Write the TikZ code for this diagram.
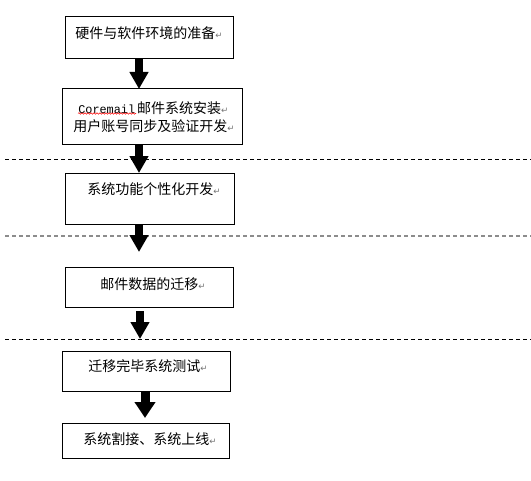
\documentclass[tikz,border=0pt]{standalone}
\usepackage{fontspec}
\setmainfont{Liberation Sans}
\newfontfamily\cjk{Noto Sans CJK SC}
\newfontfamily\monofnt{Liberation Mono}
\newfontfamily\symfnt{DejaVu Sans}
\usetikzlibrary{arrows.meta,decorations.pathmorphing}
\newcommand\pmark{{\symfnt\fontsize{6.5}{6.5}\selectfont\textcolor{black!55}{↵}}}
\begin{document}
\begin{tikzpicture}[x=0.75pt,y=-0.75pt,
  boxnode/.style={draw=black,line width=0.75pt,inner sep=0pt,outer sep=0pt},
  txt/.style={anchor=west,inner sep=0pt,font=\cjk\fontsize{10.5}{12}\selectfont},
  sep/.style={line width=0.75pt,dash pattern=on 3pt off 2.25pt},
  bigarrow/.style={line width=6pt,-{Triangle[width=13.5pt,length=12.75pt]}},
  bigarrowb/.style={line width=6.75pt,-{Triangle[width=15pt,length=12pt]}}]
\useasboundingbox (0,0) rectangle (531,481);

% separators
\coordinate (s1a) at (5,159);  \coordinate (s1b) at (531,159);
\coordinate (s2a) at (5,236);  \coordinate (s2b) at (531,236);
\coordinate (s3a) at (5,339);  \coordinate (s3b) at (531,339);
\draw[sep,black] (s1a) -- (s1b);
\draw[sep,black!45,line width=1.1pt] (s2a) -- (s2b);
\draw[sep,black] (s3a) -- (s3b);

% boxes
\node[boxnode,minimum width=126pt,minimum height=31.5pt] (b1) at (149,38) {};
\node[boxnode,minimum width=135pt,minimum height=42pt] (b2) at (152,117) {};
\node[boxnode,minimum width=126.75pt,minimum height=38.25pt] (b3) at (149.5,198.5) {};
\node[boxnode,minimum width=126pt,minimum height=30pt] (b4) at (149,287) {};
\node[boxnode,minimum width=126pt,minimum height=30pt] (b5) at (146,371) {};
\node[boxnode,minimum width=125.25pt,minimum height=26.25pt] (b6) at (145.5,440.5) {};

% texts
\node[txt] (t1) at (75,33) {硬件与软件环境的准备\pmark};
\node[txt] (t2a) at (78,108) {{\monofnt\fontsize{8.9}{10}\selectfont Coremail}\hspace{1.5pt}邮件系统安装\pmark};
\node[txt] (t2b) at (73,126) {用户账号同步及验证开发\pmark};
\node[txt] (t3) at (87,189) {系统功能个性化开发\pmark};
\node[txt] (t4) at (100,284) {邮件数据的迁移\pmark};
\node[txt] (t5) at (88,366) {迁移完毕系统测试\pmark};
\node[txt] (t6) at (83,439) {系统割接、系统上线\pmark};

% spell-check underline
\coordinate (w1) at (78,113.5); \coordinate (w2) at (136,113.5);
\draw[red,line width=0.4pt,decorate,decoration={snake,amplitude=0.6pt,segment length=2.25pt}] (w1) -- (w2);

% arrows
\coordinate (ax) at (139,0);
\coordinate (ax5) at (145,0);
\coordinate (e3) at (139,252);
\coordinate (s4) at (140,311);
\coordinate (e4) at (140,339);
\coordinate (e5) at (145,418);
\draw[bigarrow] (b1.south -| ax) -- (b2.north -| ax);
\draw[bigarrow] (b2.south -| ax) -- (b3.north -| ax);
\draw[bigarrow] (b3.south -| ax) -- (e3);
\draw[bigarrow] (s4) -- (e4);
\draw[bigarrowb] (b5.south -| ax5) -- (e5);
\end{tikzpicture}
\end{document}
